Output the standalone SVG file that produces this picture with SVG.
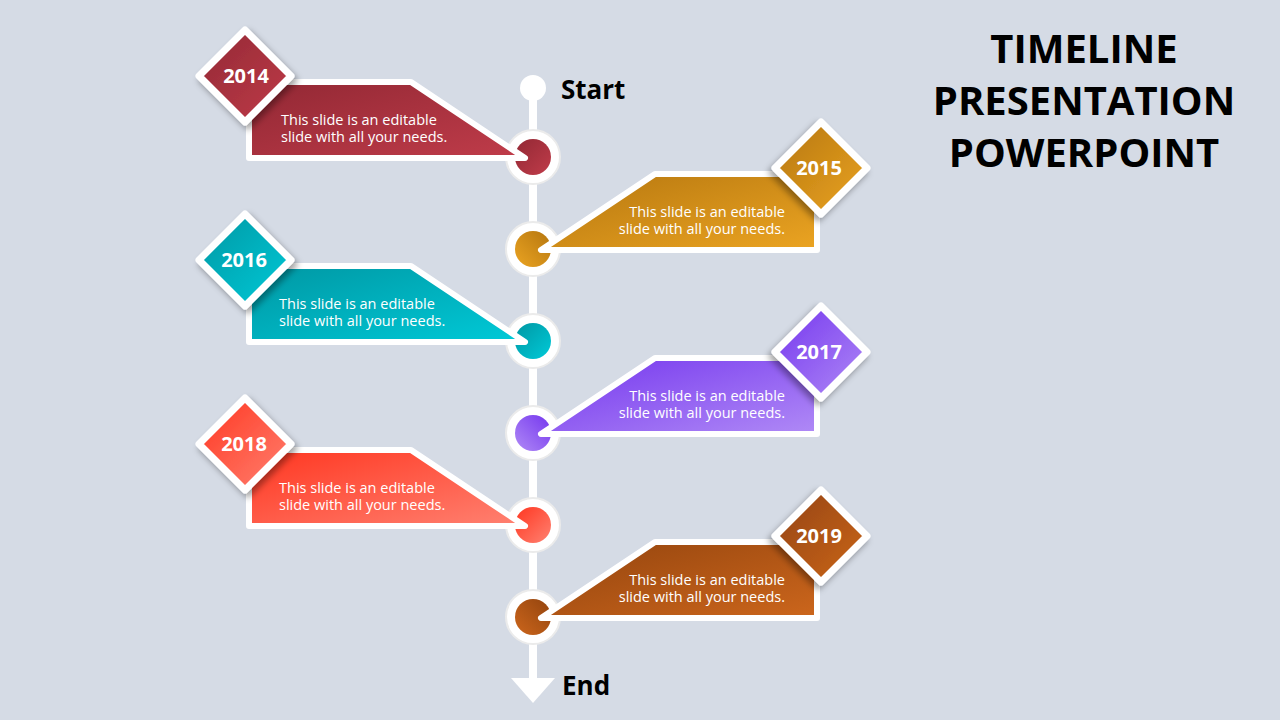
<svg xmlns="http://www.w3.org/2000/svg" width="1280" height="720" viewBox="0 0 1280 720">
<style>
.ban{stroke:#fff;stroke-width:6;stroke-linejoin:round}
.dia{stroke:#fff;stroke-width:7;stroke-linejoin:round;filter:url(#sh)}
.ring{fill:#fff;stroke:#ebebeb;stroke-width:2}
.yr{font-family:"Open Sans","DejaVu Sans",sans-serif;font-weight:bold;font-size:20px;fill:#fff;text-anchor:middle}
.tx{font-family:"Open Sans","DejaVu Sans",sans-serif;font-size:14.5px;fill:#fff}
.lbl{font-family:"Open Sans","DejaVu Sans",sans-serif;font-weight:bold;font-size:26px;fill:#000}
.ttl{font-family:"Open Sans","DejaVu Sans",sans-serif;font-weight:bold;font-size:40px;fill:#000;text-anchor:middle}
</style>
<defs>
<filter id="sh" x="-30%" y="-30%" width="160%" height="160%"><feDropShadow dx="3" dy="4" stdDeviation="3" flood-color="#000" flood-opacity="0.35"/></filter>
<linearGradient id="g1" x1="0" y1="0" x2="1" y2="1"><stop offset="0" stop-color="#922834"/><stop offset="1" stop-color="#c03c4a"/></linearGradient>
<linearGradient id="g2" x1="1" y1="0" x2="0" y2="1"><stop offset="0" stop-color="#b5760f"/><stop offset="1" stop-color="#eba422"/></linearGradient>
<linearGradient id="g3" x1="0" y1="0" x2="1" y2="1"><stop offset="0" stop-color="#0097a3"/><stop offset="1" stop-color="#00cad8"/></linearGradient>
<linearGradient id="g4" x1="1" y1="0" x2="0" y2="1"><stop offset="0" stop-color="#7436ee"/><stop offset="1" stop-color="#b08af6"/></linearGradient>
<linearGradient id="g5" x1="0" y1="0" x2="1" y2="1"><stop offset="0" stop-color="#ff3620"/><stop offset="1" stop-color="#ff8272"/></linearGradient>
<linearGradient id="g6" x1="1" y1="0" x2="0" y2="1"><stop offset="0" stop-color="#93440e"/><stop offset="1" stop-color="#cc661c"/></linearGradient>
<path id="banner" d="M-284 -75 H-122 L-8 1 H-284 Z"/>
<path id="diam" d="M-288 -127 L-242 -81 L-288 -35 L-334 -81 Z"/>
</defs>
<rect width="1280" height="720" fill="#d5dbe5"/>
<g id="connectors">
<line x1="533" y1="88" x2="533" y2="682" stroke="#fff" stroke-width="8"/>
<circle cx="533" cy="88" r="13" fill="#fff"/>
<path d="M511 678 H555 L533 703 Z" fill="#fff"/>
</g>
<text class="lbl" x="561" y="99">Start</text>
<text class="lbl" x="562" y="695">End</text>
<g id="n2014" transform="translate(533,157)">
<circle class="ring" r="27"/><circle r="18" fill="url(#g1)"/>
<use href="#banner" class="ban" fill="url(#g1)"/>
<use href="#diam" class="dia" fill="url(#g1)"/>
<text class="yr" x="-287" y="-74">2014</text>
<text class="tx" x="-252" y="-32">This slide is an editable</text>
<text class="tx" x="-252" y="-15">slide with all your needs.</text>
</g>
<g id="n2015" transform="translate(533,249)">
<circle class="ring" r="27"/><circle r="18" fill="url(#g2)"/>
<use href="#banner" class="ban" fill="url(#g2)" transform="scale(-1,1)"/>
<use href="#diam" class="dia" fill="url(#g2)" transform="scale(-1,1)"/>
<text class="yr" x="286" y="-74">2015</text>
<text class="tx" x="252" y="-32" text-anchor="end">This slide is an editable</text>
<text class="tx" x="252" y="-15" text-anchor="end">slide with all your needs.</text>
</g>
<g id="n2016" transform="translate(533,341)">
<circle class="ring" r="27"/><circle r="18" fill="url(#g3)"/>
<use href="#banner" class="ban" fill="url(#g3)"/>
<use href="#diam" class="dia" fill="url(#g3)"/>
<text class="yr" x="-289" y="-74">2016</text>
<text class="tx" x="-254" y="-32">This slide is an editable</text>
<text class="tx" x="-254" y="-15">slide with all your needs.</text>
</g>
<g id="n2017" transform="translate(533,433)">
<circle class="ring" r="27"/><circle r="18" fill="url(#g4)"/>
<use href="#banner" class="ban" fill="url(#g4)" transform="scale(-1,1)"/>
<use href="#diam" class="dia" fill="url(#g4)" transform="scale(-1,1)"/>
<text class="yr" x="286" y="-74">2017</text>
<text class="tx" x="252" y="-32" text-anchor="end">This slide is an editable</text>
<text class="tx" x="252" y="-15" text-anchor="end">slide with all your needs.</text>
</g>
<g id="n2018" transform="translate(533,525)">
<circle class="ring" r="27"/><circle r="18" fill="url(#g5)"/>
<use href="#banner" class="ban" fill="url(#g5)"/>
<use href="#diam" class="dia" fill="url(#g5)"/>
<text class="yr" x="-289" y="-74">2018</text>
<text class="tx" x="-254" y="-32">This slide is an editable</text>
<text class="tx" x="-254" y="-15">slide with all your needs.</text>
</g>
<g id="n2019" transform="translate(533,617)">
<circle class="ring" r="27"/><circle r="18" fill="url(#g6)"/>
<use href="#banner" class="ban" fill="url(#g6)" transform="scale(-1,1)"/>
<use href="#diam" class="dia" fill="url(#g6)" transform="scale(-1,1)"/>
<text class="yr" x="286" y="-74">2019</text>
<text class="tx" x="252" y="-32" text-anchor="end">This slide is an editable</text>
<text class="tx" x="252" y="-15" text-anchor="end">slide with all your needs.</text>
</g>
<g id="title">
<text class="ttl" x="1084" y="63">TIMELINE</text>
<text class="ttl" x="1084" y="115">PRESENTATION</text>
<text class="ttl" x="1084" y="167">POWERPOINT</text>
</g>
</svg>
